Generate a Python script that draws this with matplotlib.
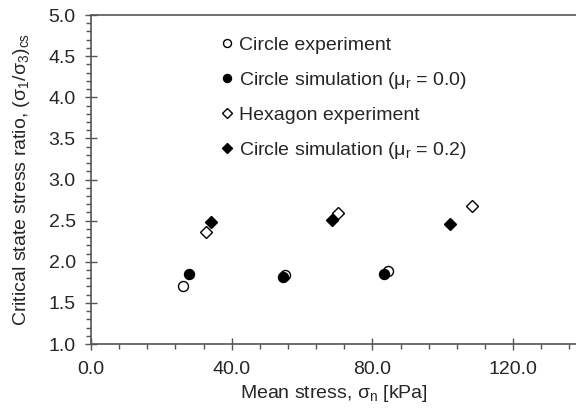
import matplotlib.pyplot as plt
from matplotlib.ticker import MultipleLocator, FormatStrFormatter

plt.rcParams['font.family'] = ['Liberation Sans', 'DejaVu Sans']
plt.rcParams['mathtext.fontset'] = 'custom'
plt.rcParams['mathtext.rm'] = 'Liberation Sans'
plt.rcParams['mathtext.it'] = 'Liberation Sans:italic'

# mean stress (kPa) and critical state stress ratio
circ_exp_x = [26.1, 55.3, 84.5]
circ_exp_y = [1.70, 1.84, 1.89]
circ_sim_x = [27.9, 54.7, 83.3]
circ_sim_y = [1.85, 1.81, 1.85]
hex_exp_x = [32.7, 70.2, 108.4]
hex_exp_y = [2.36, 2.59, 2.68]
circ_sim2_x = [34.2, 68.6, 102.0]
circ_sim2_y = [2.48, 2.51, 2.46]

txt = '#262626'
ax_col = '#555555'

fig = plt.figure(figsize=(5.76, 4.12), dpi=100)
ax = fig.add_axes([0.158, 0.165, 0.842, 0.7985])

ms = 7.2
dms = 6.4
ax.plot(circ_exp_x, circ_exp_y, 'o', ms=ms, mfc='white', mec='black', mew=1.0,
        ls='none', label='Circle experiment', zorder=3)
ax.plot(circ_sim_x, circ_sim_y, 'o', ms=ms, mfc='black', mec='black', mew=1.0,
        ls='none', label='Circle simulation (μ$_\\mathrm{r}$ = 0.0)', zorder=4)
ax.plot(hex_exp_x, hex_exp_y, 'D', ms=dms, mfc='white', mec='black', mew=1.0,
        ls='none', label='Hexagon experiment', zorder=3)
ax.plot(circ_sim2_x, circ_sim2_y, 'D', ms=dms, mfc='black', mec='black', mew=1.0,
        ls='none', label='Circle simulation (μ$_\\mathrm{r}$ = 0.2)', zorder=4)

ax.set_xlim(0, 137.9)
ax.set_ylim(1.0, 5.0)
ax.xaxis.set_major_locator(MultipleLocator(40))
ax.xaxis.set_minor_locator(MultipleLocator(8))
ax.yaxis.set_major_locator(MultipleLocator(0.5))
ax.yaxis.set_minor_locator(MultipleLocator(0.1))
ax.xaxis.set_major_formatter(FormatStrFormatter('%.1f'))
ax.yaxis.set_major_formatter(FormatStrFormatter('%.1f'))

for s in ['left', 'bottom', 'top']:
    ax.spines[s].set_color(ax_col)
    ax.spines[s].set_linewidth(1.2)
ax.spines['right'].set_visible(False)

ax.tick_params(which='major', direction='inout', length=8, width=1.0,
               color=ax_col, labelsize=14, labelcolor=txt)
ax.tick_params(which='minor', direction='out', length=3.6, width=1.0,
               color=ax_col)
ax.tick_params(axis='x', which='major', pad=8)
ax.tick_params(axis='y', which='major', pad=7)

ax.set_xlabel('Mean stress, σ$_\\mathrm{n}$ [kPa]', fontsize=14, color=txt,
              labelpad=4)
ax.set_ylabel('Critical state stress ratio, (σ$_\\mathrm{1}$/σ$_\\mathrm{3}$)$_\\mathrm{cs}$',
              fontsize=14, color=txt, labelpad=12)

leg = ax.legend(loc='upper left', bbox_to_anchor=(0.252, 0.96), frameon=False,
                fontsize=14, markerscale=0.8, handlelength=0.6,
                handletextpad=0.3, labelspacing=0.82, borderaxespad=0)
for t in leg.get_texts():
    t.set_color(txt)

fig.savefig('out.png', dpi=100)
